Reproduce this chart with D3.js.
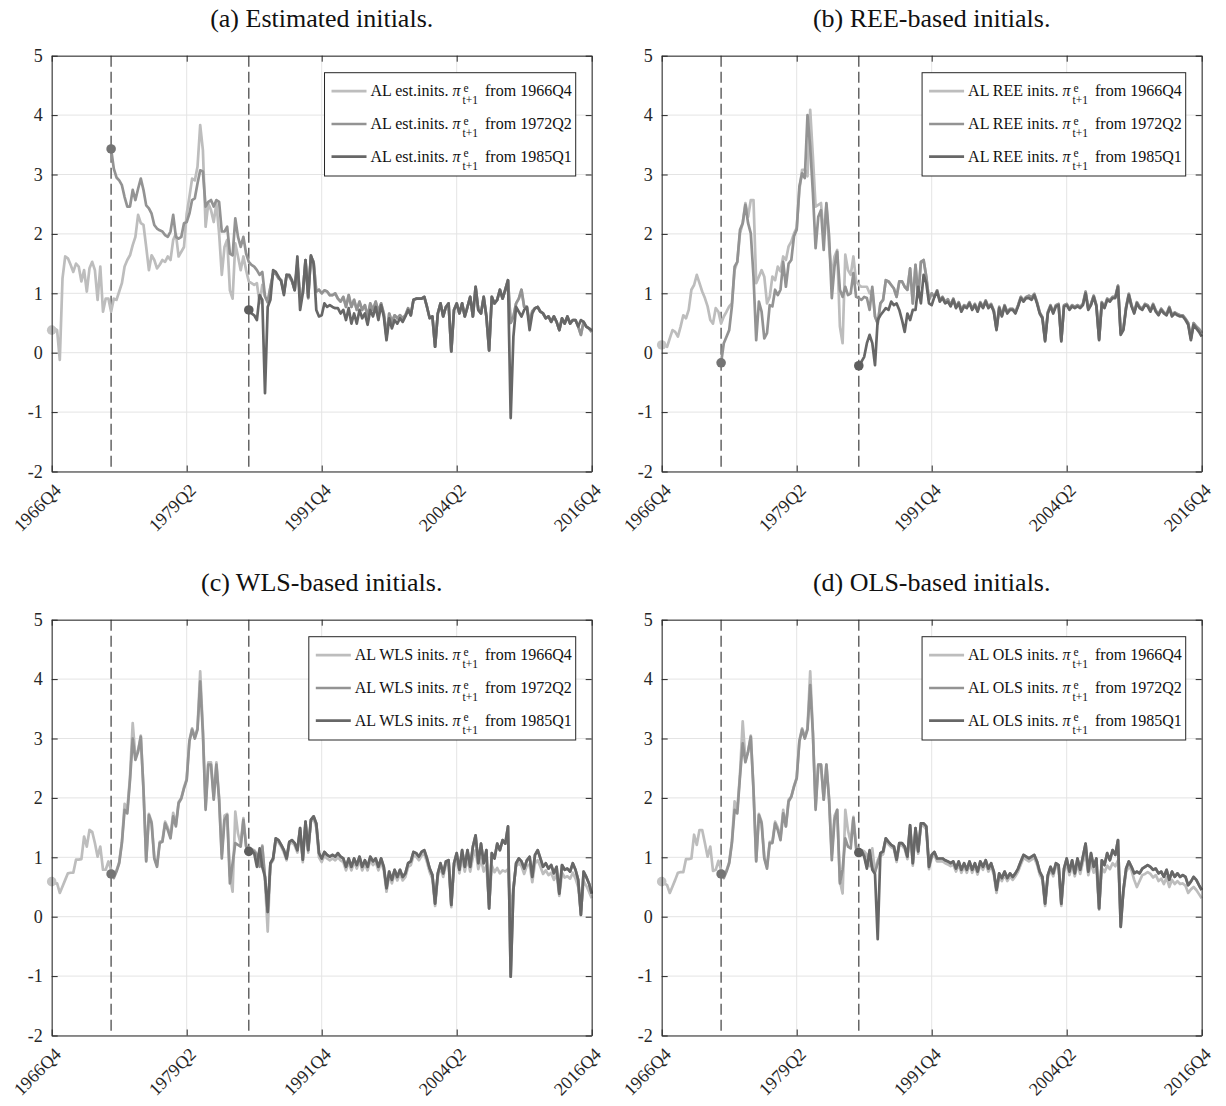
<!DOCTYPE html>
<html>
<head>
<meta charset="utf-8">
<script src="https://cdn.jsdelivr.net/npm/d3@7"></script>
<style>
  body { margin: 0; background: #fff; }
  svg { display: block; font-family: "Liberation Serif", "Times New Roman", serif; }
</style>
</head>
<body>
<svg id="fig" width="1226" height="1106"></svg>
<script>
// x axis: quarters counted from 1966Q4
var xTickLabels = ['1966Q4', '1979Q2', '1991Q4', '2004Q2', '2016Q4'];
var yTicks = [-2, -1, 0, 1, 2, 3, 4, 5];
var starts = ['1966Q4', '1972Q2', '1985Q1'];
var titles = ['(a) Estimated initials.', '(b) REE-based initials.', '(c) WLS-based initials.', '(d) OLS-based initials.'];
var legendNames = ['AL est.inits.', 'AL REE inits.', 'AL WLS inits.', 'AL OLS inits.'];

// ---- panel (a) ----
var aLight = [0.38,0.41,0.38,-0.12,1.25,1.62,1.59,1.48,1.36,1.5,
  1.45,1.2,1.39,1.03,1.42,1.53,1.39,0.89,1.45,0.69,
  0.91,0.91,0.69,0.91,0.89,1.03,1.17,1.45,1.56,1.64,
  1.81,1.95,2.32,2.18,2.15,1.78,1.39,1.64,1.56,1.42,
  1.48,1.56,1.53,1.62,1.56,1.9,2.0,1.62,1.7,1.78,
  2.34,2.62,2.93,2.9,3.13,3.83,3.41,2.12,2.51,2.4,
  2.2,2.51,2.01,1.31,1.78,1.9,1.05,0.91,1.84,1.62,
  1.39,1.62,1.39,1.2,1.17,1.14,1.17,0.83,1.14];
var aMedium = [3.43,3.1,2.95,2.9,2.82,2.62,2.46,2.46,
  2.74,2.57,2.76,2.93,2.74,2.48,2.43,2.34,2.15,2.09,
  2.06,2.04,1.98,1.95,2.04,2.32,1.95,1.92,1.95,2.18,
  2.2,2.34,2.57,2.6,2.85,3.07,3.05,2.46,2.54,2.57,
  2.46,2.57,2.54,2.04,2.04,2.12,1.67,1.64,2.26,1.95,
  1.78,1.95,1.67,1.53,1.48,1.45,1.39,1.31,1.36];
var aTail = [0.95,0.85,1.1,1.33,1.33,1.25,1.22,1.0,1.31,1.28,1.2,
  1.06,1.5,0.94,1.0,1.56,0.92,1.62,1.53,1.03,1.06,
  1.0,1.05,1.03,0.97,0.97,1.0,0.91,0.86,0.94,0.77,
  0.97,0.77,0.89,0.72,0.86,0.72,0.8,0.61,0.83,0.72,
  0.86,0.69,0.83,0.66,0.27,0.66,0.52,0.63,0.58,0.63,
  0.58,0.63,0.75,0.63,0.89,0.91,0.91,0.91,0.94,0.77,
  0.58,0.61,0.1,0.66,0.83,0.61,0.77,0.83,0.02,0.72,
  0.83,0.66,0.83,0.61,0.77,0.94,0.61,1.11,0.72,0.66,
  0.94,0.61,0.04,0.94,0.83,0.89,1.06,0.91,1.06,1.22,
  0.5,0.61,0.83,0.91,1.06,0.77,0.77,0.5,0.7,0.75,
  0.77,0.69,0.66,0.58,0.61,0.52,0.61,0.52,0.38,0.58,
  0.49,0.61,0.49,0.55,0.55,0.44,0.3,0.52,0.44,0.41,0.35];
var aDark = [0.72,0.66,0.63,0.55,0.97,0.89,-0.68,
  0.77,0.89,1.39,1.36,1.28,1.2,0.97,1.31,1.31,1.22,
  1.05,1.62,0.72,1.0,1.56,0.94,1.64,1.5,0.72,0.61,
  0.63,0.83,0.77,0.8,0.77,0.75,0.75,0.66,0.72,0.55,
  0.75,0.49,0.66,0.49,0.72,0.58,0.66,0.47,0.72,0.61,
  0.77,0.55,0.8,0.61,0.21,0.58,0.41,0.55,0.49,0.58,
  0.52,0.61,0.72,0.63,0.89,0.91,0.91,0.91,0.94,0.77,
  0.58,0.61,0.1,0.66,0.83,0.61,0.77,0.83,0.02,0.72,
  0.83,0.66,0.83,0.61,0.77,0.94,0.61,1.11,0.72,0.66,
  0.94,0.61,0.04,0.94,0.83,0.89,1.06,0.91,1.06,1.22,
  -1.1,0.27,0.77,0.69,0.61,0.72,0.77,0.38,0.66,0.75,
  0.77,0.69,0.66,0.58,0.61,0.52,0.61,0.52,0.38,0.58,
  0.49,0.61,0.49,0.55,0.55,0.44,0.55,0.52,0.44,0.41,0.38];

// ---- panel (b) ----
var bLight = [0.13,0.13,0.1,0.24,0.38,0.35,0.27,0.44,0.63,0.58,
  0.72,1.06,1.14,1.31,1.17,1.03,0.92,0.78,0.55,0.49,
  0.75,0.69,0.49,0.61,0.69,0.78,0.83,1.39,1.53,2.01,
  2.18,2.52,2.29,2.57,2.57,1.17,1.28,1.39,1.28,0.83,
  0.94,1.28,1.22,1.45,1.37,1.62,1.56,1.79,1.87,2.01,
  2.1,2.74,3.08,3.08,2.97,4.09,3.3,2.46,2.49,2.52,
  1.96,2.49,1.79,1.28,1.62,1.73,0.44,0.16,1.65,1.39,
  1.31,1.62,1.2,1.14,1.11,1.11,1.11,1.0,1.06];
var bMedium = [-0.17,0.16,0.27,0.38,0.78,1.45,1.53,2.07,
  2.18,2.49,2.18,2.01,1.28,0.21,0.86,0.69,0.24,0.33,
  0.8,0.78,1.06,0.97,1.06,1.53,1.11,1.5,1.56,1.96,
  2.07,2.8,3.02,2.94,4.0,3.47,2.69,1.76,2.29,2.4,
  1.73,2.52,1.96,0.92,1.45,1.7,1.06,0.94,1.11,0.97,
  1.0,1.34,0.94,0.92,0.89,0.94,0.92,0.72,1.11];
var bTail = [0.61,0.49,0.83,0.89,1.22,1.2,1.14,1.08,0.94,1.2,1.2,
  1.11,1.06,1.42,0.83,1.48,0.94,1.53,1.56,1.28,0.89,
  1.0,0.94,1.05,0.88,0.94,0.85,0.9,0.8,0.91,0.77,
  0.85,0.72,0.8,0.77,0.85,0.74,0.82,0.71,0.85,0.77,
  0.88,0.77,0.82,0.71,0.4,0.77,0.63,0.8,0.68,0.74,
  0.74,0.68,0.8,0.94,0.88,0.94,0.96,0.93,0.99,0.85,
  0.68,0.6,0.21,0.68,0.8,0.68,0.8,0.82,0.21,0.8,
  0.82,0.74,0.8,0.77,0.8,0.77,0.82,1.03,0.74,0.82,
  0.96,0.8,0.23,0.85,0.77,0.91,0.88,0.94,0.94,1.13,
  0.33,0.4,0.77,0.99,0.8,0.68,0.85,0.77,0.74,0.82,
  0.8,0.71,0.82,0.71,0.65,0.74,0.68,0.65,0.77,0.63,
  0.68,0.65,0.63,0.63,0.57,0.5,0.24,0.5,0.44,0.4,0.33];
var bDark = [-0.22,-0.15,-0.07,0.16,0.3,0.16,-0.21,
  0.55,0.63,0.69,0.75,0.72,0.86,0.8,0.83,0.72,0.55,
  0.35,0.66,0.55,0.72,0.72,1.11,0.83,1.31,1.17,0.83,
  0.8,0.94,1.03,0.86,0.92,0.83,0.86,0.78,0.89,0.75,
  0.83,0.69,0.78,0.75,0.83,0.72,0.8,0.69,0.83,0.75,
  0.86,0.75,0.8,0.69,0.38,0.75,0.61,0.78,0.66,0.72,
  0.72,0.66,0.78,0.92,0.86,0.92,0.92,0.89,0.97,0.83,
  0.66,0.58,0.19,0.66,0.78,0.66,0.78,0.8,0.19,0.78,
  0.8,0.72,0.78,0.75,0.78,0.75,0.8,1.0,0.72,0.8,
  0.94,0.78,0.21,0.83,0.75,0.89,0.86,0.92,0.92,1.11,
  0.3,0.38,0.75,0.97,0.78,0.66,0.83,0.75,0.72,0.8,
  0.78,0.69,0.8,0.69,0.63,0.72,0.66,0.63,0.75,0.61,
  0.66,0.63,0.61,0.61,0.55,0.47,0.21,0.47,0.41,0.35,0.27];

// ---- panel (c) ----
var cLight = [0.59,0.56,0.56,0.4,0.51,0.62,0.73,0.74,0.74,0.96,
  0.96,0.97,1.35,1.18,1.46,1.43,1.24,1.01,1.18,0.79,
  0.79,0.93,0.79,0.68,0.78,0.92,1.26,1.9,1.8,2.35,
  3.26,2.7,2.8,3.05,2.15,0.95,1.73,1.6,1.0,0.86,
  1.26,1.28,1.6,1.5,1.36,1.75,1.55,1.93,2.0,2.18,
  2.32,2.97,3.17,3.03,3.17,4.13,3.15,1.85,2.6,2.6,
  2.0,2.6,2.0,1.05,1.7,1.73,0.7,0.42,1.77,1.4,
  1.22,1.66,1.2,1.15,1.14,1.12,1.06,0.86,1.2,0.6,-0.25];
var cLightTail = [0.88,0.95,1.28,1.25,1.18,1.08,0.95,1.22,1.25,
  1.2,1.08,1.45,0.92,1.56,1.08,1.6,1.65,1.5,1.0,
  0.92,1.03,0.98,0.95,0.98,0.95,1.0,0.95,0.92,0.78,
  0.92,0.78,0.92,0.81,0.95,0.78,0.89,0.78,0.95,0.87,
  0.92,0.78,0.92,0.78,0.42,0.7,0.56,0.73,0.61,0.73,
  0.61,0.67,0.84,0.87,1.03,1.01,0.95,1.03,1.06,0.92,
  0.75,0.64,0.18,0.67,0.84,0.67,0.87,0.89,0.16,0.84,
  0.98,0.73,1.0,0.76,0.98,0.76,1.0,1.12,0.8,0.98,
  0.76,0.86,0.2,0.86,0.75,0.82,0.73,0.78,0.76,0.8,
  0.1,0.5,0.85,0.9,0.85,0.72,0.86,0.88,0.58,0.9,
  0.95,0.84,0.72,0.78,0.7,0.74,0.62,0.72,0.35,0.74,
  0.66,0.68,0.64,0.74,0.64,0.5,0.1,0.6,0.52,0.42,0.31];
var cMedium = [0.72,0.65,0.76,0.9,1.24,1.8,1.74,2.3,
  3.0,2.64,2.78,3.03,2.13,0.93,1.71,1.57,0.98,0.84,
  1.24,1.26,1.57,1.46,1.32,1.69,1.52,1.91,1.99,2.16,
  2.3,2.95,3.15,3.0,3.15,3.96,3.09,1.8,2.56,2.56,
  1.97,2.56,1.97,0.98,1.63,1.71,0.56,0.9,1.24,1.21,
  1.18,1.63,1.18,1.12,1.12,1.1,1.04,0.84,1.18,0.67,0.08];
var cDark = [1.1,1.1,1.07,0.84,1.15,0.84,0.67,0.08];
var cTail = [0.9,0.98,1.32,1.29,1.21,1.12,0.98,1.26,1.29,
  1.24,1.12,1.49,0.96,1.6,1.12,1.63,1.69,1.57,1.07,
  0.98,1.09,1.04,1.01,1.04,1.01,1.07,1.01,0.98,0.84,
  0.98,0.84,0.98,0.87,1.01,0.84,0.95,0.84,1.01,0.93,
  0.98,0.84,0.98,0.84,0.48,0.76,0.62,0.79,0.67,0.79,
  0.67,0.73,0.9,0.93,1.09,1.07,1.01,1.09,1.12,0.98,
  0.81,0.7,0.22,0.73,0.9,0.73,0.93,0.95,0.2,0.9,
  1.07,0.79,1.12,0.84,1.12,0.84,1.18,1.37,0.9,1.23,
  0.9,1.12,0.14,1.07,0.98,1.23,1.12,1.29,1.23,1.52,
  -1.01,0.45,0.9,0.98,0.93,0.81,0.95,1.01,0.67,1.04,
  1.12,0.98,0.84,0.9,0.81,0.87,0.73,0.84,0.39,0.87,
  0.79,0.81,0.76,0.9,0.79,0.62,0.03,0.76,0.67,0.56,0.39];

// ---- panel (d) ----
var dLight = [0.59,0.56,0.53,0.4,0.51,0.62,0.74,0.75,0.75,0.97,
  0.97,0.98,1.38,1.21,1.46,1.46,1.24,1.01,1.18,0.77,
  0.79,0.94,0.79,0.68,0.78,0.92,1.26,1.94,1.8,2.4,
  3.29,2.64,2.78,3.05,2.15,0.95,1.73,1.6,1.0,0.84,
  1.26,1.26,1.6,1.5,1.34,1.8,1.52,1.97,2.02,2.2,
  2.34,2.97,3.17,3.03,3.17,4.13,3.1,1.85,2.56,2.56,
  1.97,2.56,1.97,1.05,1.7,1.8,0.6,0.39,1.8,1.45,
  1.25,1.68,1.2,1.12,1.12,1.1,1.05,0.85,1.15,0.75,0.95];
var dLightTail = [1.02,1.05,1.28,1.22,1.17,1.14,0.92,1.2,1.2,
  1.14,0.97,1.5,0.86,1.45,1.06,1.53,1.53,1.47,0.8,
  0.99,1.04,0.93,0.93,0.93,0.9,0.88,0.85,0.88,0.76,
  0.88,0.74,0.85,0.74,0.88,0.74,0.85,0.71,0.88,0.79,
  0.9,0.76,0.85,0.71,0.4,0.68,0.6,0.71,0.6,0.68,
  0.62,0.68,0.76,0.88,0.99,0.96,0.93,0.96,0.99,0.88,
  0.71,0.62,0.18,0.65,0.79,0.68,0.85,0.82,0.18,0.76,
  0.9,0.7,0.86,0.68,0.88,0.72,0.92,1.05,0.7,0.9,
  0.74,0.84,0.12,0.82,0.75,0.86,0.8,0.9,0.85,0.95,
  0.0,0.4,0.75,0.85,0.78,0.62,0.5,0.6,0.7,0.72,
  0.75,0.72,0.66,0.7,0.6,0.64,0.55,0.66,0.5,0.62,
  0.55,0.6,0.55,0.56,0.52,0.4,0.46,0.5,0.45,0.38,0.31];
var dMedium = [0.72,0.65,0.76,0.9,1.24,1.8,1.74,2.36,
  2.92,2.6,2.78,3.03,2.13,0.93,1.71,1.57,0.98,0.81,
  1.24,1.24,1.57,1.46,1.29,1.74,1.52,1.94,2.02,2.19,
  2.33,2.95,3.15,3.0,3.15,3.9,3.09,1.8,2.56,2.56,
  1.97,2.56,1.97,0.95,1.63,1.8,0.56,0.8,1.32,1.18,
  1.15,1.66,1.15,1.1,1.1,1.05,0.84,1.1,0.82,0.75,0.9];
var dDark = [1.08,1.1,1.01,0.81,1.12,0.79,0.72,-0.38];
var dTail = [1.07,1.1,1.32,1.26,1.21,1.18,0.96,1.24,1.24,
  1.18,1.01,1.54,0.9,1.49,1.1,1.57,1.57,1.52,0.84,
  1.04,1.09,0.98,0.98,0.98,0.95,0.93,0.9,0.93,0.81,
  0.93,0.79,0.9,0.79,0.93,0.79,0.9,0.76,0.93,0.84,
  0.95,0.81,0.9,0.76,0.45,0.73,0.65,0.76,0.65,0.73,
  0.67,0.73,0.81,0.93,1.04,1.01,0.98,1.01,1.04,0.93,
  0.76,0.67,0.22,0.7,0.84,0.73,0.9,0.87,0.22,0.81,
  0.98,0.76,0.95,0.73,0.98,0.79,1.01,1.23,0.76,1.07,
  0.84,0.98,0.14,0.95,0.87,1.07,0.95,1.12,1.04,1.29,
  -0.17,0.45,0.81,0.93,0.84,0.73,0.76,0.73,0.81,0.84,
  0.87,0.84,0.79,0.81,0.73,0.76,0.67,0.79,0.62,0.76,
  0.67,0.73,0.67,0.7,0.67,0.53,0.59,0.67,0.62,0.53,0.45];

var colors = ['#bdbdbd', '#939393', '#676767'];
var markerColors = ['#c4c4c4', '#747474', '#5e5e5e'];
var serif = '"Liberation Serif", "Times New Roman", serif';

function qIndex(label){
  var yr = +label.slice(0, 4), q = +label.slice(5);
  return (yr - 1966) * 4 + (q - 4);
}

var panels = [
  {left: 51.7, top: 55.7, series: [aLight.concat(aTail), aMedium.concat(aTail), aDark]},
  {left: 661.7, top: 55.7, series: [bLight.concat(bTail), bMedium.concat(bTail), bDark]},
  {left: 51.7, top: 619.7, series: [cLight.concat(cLightTail), cMedium.concat(cTail), cDark.concat(cTail)]},
  {left: 661.7, top: 619.7, series: [dLight.concat(dLightTail), dMedium.concat(dTail), dDark.concat(dTail)]}
];

var W = 540, H = 415.8;
var svg = d3.select('#fig');

panels.forEach(function(p, k){
  var g = svg.append('g').attr('transform', 'translate(' + p.left + ',' + p.top + ')');
  var x = d3.scaleLinear().domain([0, qIndex('2016Q4')]).range([0, W]);
  var y = d3.scaleLinear().domain([-2, 5]).range([H, 0]);
  var xTicks = xTickLabels.map(qIndex);

  // title
  svg.append('text').attr('x', p.left + W / 2).attr('y', p.top - 29)
    .attr('text-anchor', 'middle').attr('font-size', 26).attr('fill', '#111')
    .text(titles[k]);

  // grid
  g.append('g').selectAll('line').data(yTicks).join('line')
    .attr('x1', 0).attr('x2', W).attr('y1', function(d){ return y(d); }).attr('y2', function(d){ return y(d); })
    .attr('stroke', '#e4e4e4').attr('stroke-width', 1);
  g.append('g').selectAll('line').data(xTicks).join('line')
    .attr('y1', 0).attr('y2', H).attr('x1', function(d){ return x(d); }).attr('x2', function(d){ return x(d); })
    .attr('stroke', '#e4e4e4').attr('stroke-width', 1);

  // dashed start lines
  g.append('g').selectAll('line').data([starts[1], starts[2]]).join('line')
    .attr('x1', function(d){ return x(qIndex(d)); }).attr('x2', function(d){ return x(qIndex(d)); })
    .attr('y1', 0).attr('y2', H)
    .attr('stroke', '#4d4d4d').attr('stroke-width', 1.3).attr('stroke-dasharray', '11,5');

  // series
  p.series.forEach(function(vals, s){
    var s0 = qIndex(starts[s]);
    var line = d3.line().x(function(d, i){ return x(s0 + i); }).y(function(d){ return y(d); });
    g.append('path').datum(vals).attr('d', line).attr('fill', 'none')
      .attr('stroke', colors[s]).attr('stroke-width', 2.7).attr('stroke-linejoin', 'round');
  });
  p.series.forEach(function(vals, s){
    g.append('circle').attr('cx', x(qIndex(starts[s]))).attr('cy', y(vals[0])).attr('r', 4.8)
      .attr('fill', markerColors[s]);
  });

  // axes (ticks inside, on all four sides)
  var axCol = '#262626';
  var bottom = g.append('g').attr('transform', 'translate(0,' + H + ')')
    .call(d3.axisBottom(x).tickValues(xTicks).tickSizeInner(-6).tickSizeOuter(0)
      .tickFormat(function(d, i){ return xTickLabels[i]; }));
  bottom.selectAll('text').attr('x', 0).attr('y', 0).attr('dy', 0)
    .attr('text-anchor', 'end').attr('transform', 'translate(10,20) rotate(-45)');
  g.append('g')
    .call(d3.axisLeft(y).tickValues(yTicks).tickSizeInner(-6).tickSizeOuter(0).tickPadding(9)
      .tickFormat(function(d){ return String(d); }));
  g.append('g').call(d3.axisTop(x).tickValues(xTicks).tickSizeInner(-6).tickSizeOuter(0).tickFormat(''));
  g.append('g').attr('transform', 'translate(' + W + ',0)')
    .call(d3.axisRight(y).tickValues(yTicks).tickSizeInner(-6).tickSizeOuter(0).tickFormat(''));
  g.selectAll('.domain').attr('stroke', axCol).attr('stroke-width', 1);
  g.selectAll('.tick line').attr('stroke', axCol);
  g.selectAll('g').attr('font-family', serif);
  g.selectAll('.tick text').attr('fill', axCol).attr('font-size', 18).attr('font-family', serif);

  // legend
  var lg = g.append('g').attr('font-size', 16).attr('fill', '#111');
  var rowY = [18.5, 51.3, 84];
  var maxW = 0;
  var rows = lg.append('g');
  starts.forEach(function(st, s){
    var cy = rowY[s];
    rows.append('line').attr('x1', 7).attr('x2', 42).attr('y1', cy).attr('y2', cy)
      .attr('stroke', colors[s]).attr('stroke-width', 2.7);
    var t1 = rows.append('text').attr('x', 46).attr('y', cy + 5.3);
    t1.append('tspan').text(legendNames[k] + ' ');
    t1.append('tspan').attr('font-style', 'italic').text('\u03c0');
    var xs = 46 + t1.node().getComputedTextLength() + 2;
    rows.append('text').attr('x', xs + 1).attr('y', cy + 0.8).attr('font-size', 11.5).text('e');
    var t3 = rows.append('text').attr('x', xs).attr('y', cy + 13.2).attr('font-size', 11.5).text('t+1');
    var xf = xs + t3.node().getComputedTextLength() + 7;
    var t4 = rows.append('text').attr('x', xf).attr('y', cy + 5.3).text('from ' + st);
    maxW = Math.max(maxW, xf + t4.node().getComputedTextLength());
  });
  var boxW = maxW + 4;
  lg.insert('rect', ':first-child').attr('x', 0).attr('y', 0).attr('width', boxW).attr('height', 103.3)
    .attr('fill', '#fff').attr('stroke', axCol).attr('stroke-width', 1);
  lg.attr('transform', 'translate(' + (W - 16 - boxW) + ',17)');
});
</script>
</body>
</html>
